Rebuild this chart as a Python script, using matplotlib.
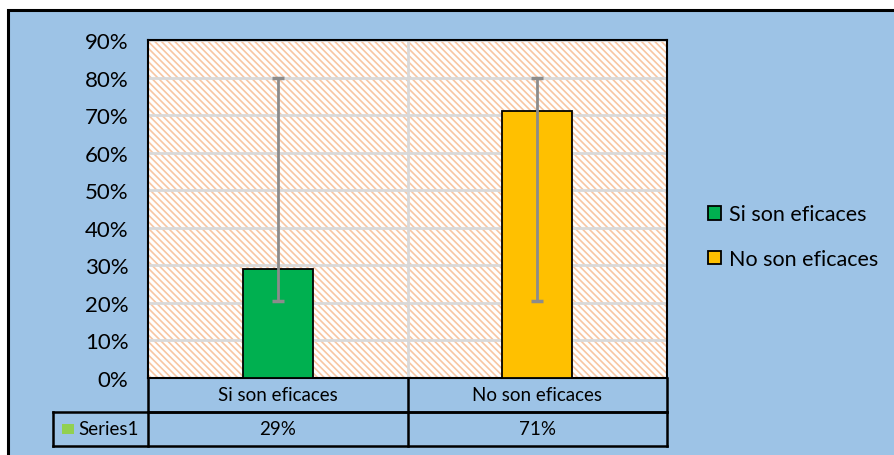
import matplotlib.pyplot as plt
import numpy as np
from matplotlib.patches import Rectangle
from matplotlib.lines import Line2D
from matplotlib.ticker import FuncFormatter, MultipleLocator

plt.rcParams["font.family"] = ["Lato", "DejaVu Sans"]
plt.rcParams["hatch.linewidth"] = 1.2

categories = ["Si son eficaces", "No son eficaces"]
values = [29, 71]            # percent
err_low = [20.5, 20.5]       # lower end of error bar, percent
err_high = [80, 80]          # upper end of error bar, percent
series_name = "Series1"
bar_colors = ["#00B050", "#FFC000"]

BG = "#9DC3E6"
W, H = 894, 456

fig = plt.figure(figsize=(W / 100, H / 100), dpi=100)
fig.patch.set_facecolor("white")

# blue chart area with black frame on left/top
bg_ax = fig.add_axes([0, 0, 1, 1], zorder=0)
bg_ax.set_axis_off()
bg_ax.set_xlim(0, W)
bg_ax.set_ylim(H, 0)
bg_ax.add_patch(Rectangle((8, 11), W + 10, H + 10, facecolor=BG,
                          edgecolor="black", linewidth=2.2))

ax = fig.add_axes([148 / W, (H - 379) / H, (667 - 148) / W, (379 - 41) / H],
                  zorder=2)
ax.set_facecolor("white")
ax.add_patch(Rectangle((0, 0), 1, 1, transform=ax.transAxes, facecolor="white",
                       edgecolor="#F8C6A2", linewidth=0, hatch="\\" * 5,
                       zorder=0))

x = np.arange(len(categories))
ax.bar(x, values, width=0.27, color=bar_colors, edgecolor="black",
       linewidth=1.3, zorder=3)
yerr = np.array([np.array(values) - np.array(err_low),
                 np.array(err_high) - np.array(values)])
ax.errorbar(x, values, yerr=yerr, fmt="none", ecolor="#8C8C8C",
            elinewidth=2, capsize=4.5, capthick=2.5, zorder=4)

ax.set_xlim(-0.5, 1.5)
ax.set_ylim(0, 90)
ax.yaxis.set_major_locator(MultipleLocator(10))
ax.yaxis.set_major_formatter(FuncFormatter(lambda v, p: f"{v:.0f}%"))
ax.grid(axis="y", color="#D9D9D9", linewidth=2, zorder=1)
ax.axvline(0.5, color="#D9D9D9", linewidth=2, zorder=1)
ax.set_xticks([])
ax.tick_params(axis="y", length=0, labelsize=16, pad=14)
for s in ax.spines.values():
    s.set_color("black")
    s.set_linewidth(1.5)

# data table below the plot
row_h = 34 / (379 - 41)
tab_kw = dict(transform=ax.transAxes, clip_on=False, color="black", linewidth=1.8)
left_hdr = (53 - 148) / (667 - 148)
ax.add_line(Line2D([0, 1], [-row_h, -row_h], **tab_kw))
ax.add_line(Line2D([left_hdr, 1], [-row_h, -row_h], **tab_kw))
ax.add_line(Line2D([left_hdr, 1], [-2 * row_h, -2 * row_h], **tab_kw))
ax.add_line(Line2D([left_hdr, left_hdr], [-row_h, -2 * row_h], **tab_kw))
ax.add_line(Line2D([0, 0], [0, -2 * row_h], **tab_kw))
ax.add_line(Line2D([0.5, 0.5], [0, -2 * row_h], **tab_kw))
ax.add_line(Line2D([1, 1], [0, -2 * row_h], **tab_kw))
for i, (cat, v) in enumerate(zip(categories, values)):
    cx = 0.25 + 0.5 * i
    ax.text(cx, -0.5 * row_h, cat, transform=ax.transAxes, ha="center",
            va="center", fontsize=13.5)
    ax.text(cx, -1.5 * row_h, f"{v}%", transform=ax.transAxes, ha="center",
            va="center", fontsize=13.5)
ax.add_patch(Rectangle((left_hdr + 0.018, -1.5 * row_h - 0.016), 0.022, 0.032,
                       transform=ax.transAxes, clip_on=False,
                       facecolor="#92D050", edgecolor="none"))
ax.text(left_hdr + 0.048, -1.5 * row_h, series_name, transform=ax.transAxes,
        ha="left", va="center", fontsize=13.5)

# legend
handles = [Rectangle((0, 0), 1, 1, facecolor=c, edgecolor="black", linewidth=1.3)
           for c in bar_colors]
fig.legend(handles, categories, loc="upper left",
           bbox_to_anchor=(689 / W, (H - 186) / H), frameon=False,
           fontsize=15.5, handlelength=0.6, handleheight=0.6,
           handletextpad=0.35, labelspacing=1.15)

fig.savefig("out.png", dpi=100)
